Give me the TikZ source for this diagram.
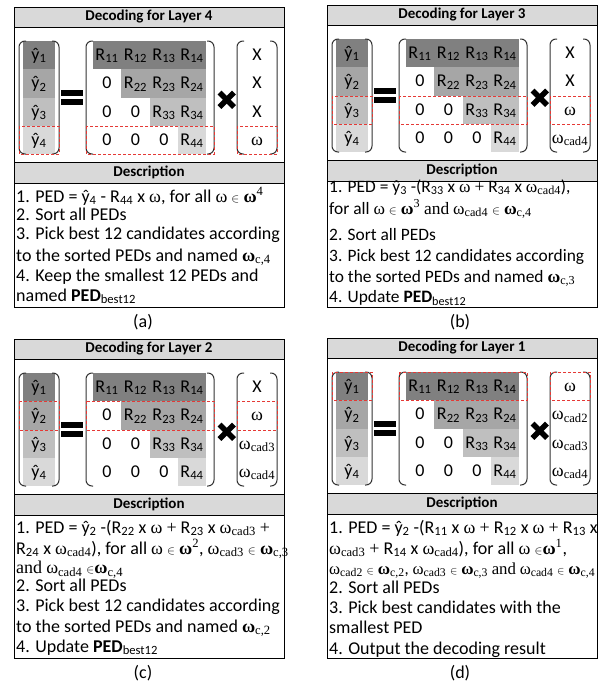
\documentclass[tikz,border=0pt]{standalone}
\usepackage{fontspec}
\setmainfont{Carlito}
\newfontfamily\tms{Liberation Serif}
\definecolor{gA}{HTML}{808080}
\definecolor{gB}{HTML}{A6A6A6}
\definecolor{gC}{HTML}{BFBFBF}
\definecolor{gD}{HTML}{D9D9D9}
\definecolor{hdr}{HTML}{D9D9D9}
\definecolor{dred}{HTML}{E53935}
\newcommand\om{{\tms ω}}
\newcommand\bom{{\tms\bfseries ω}}
\newcommand\omc[1]{{\tms ω\textsubscript{#1}}}
\newcommand\bomc[1]{{\tms{\bfseries ω}\textsubscript{#1}}}
\newcommand\inn{\ensuremath{\scriptstyle\in}}
\newcommand\sups[1]{\textsuperscript{\tms #1}}
\tikzset{
  hdrbox/.style={draw=black, fill=hdr, line width=0.8pt, inner sep=0pt, outer sep=0pt, font=\fontsize{15}{15}\selectfont\bfseries},
  plainbox/.style={draw=black, fill=white, line width=0.8pt, inner sep=0pt, outer sep=0pt},
  ent/.style={inner sep=0pt, anchor=base, font=\fontsize{18}{18}\selectfont},
  dl/.style={inner sep=0pt, anchor=base west, font=\fontsize{18}{20}\selectfont},
  dlb/.style={inner sep=0pt, anchor=base west, font=\fontsize{17.4}{20}\selectfont},
  lab/.style={inner sep=0pt, font=\fontsize{18}{18}\selectfont},
  redbox/.style={draw=dred, dash pattern=on 3pt off 2pt, line width=0.9pt},
  brk/.style={draw=black!80, line width=1pt, rounded corners=6pt},
  eqbar/.style={fill=black},
  crossln/.style={draw=black, line width=5.5pt},
}
% frame: prefix, title, body height, body centre
\newcommand\frm[4]{%
  \node[hdrbox, minimum width=270pt, minimum height=20pt] (#1hd) at (135,10) {#2};
  \node[plainbox, minimum width=270pt, minimum height=135pt] (#1ma) at (135,87.5) {};
  \node[hdrbox, minimum width=270pt, minimum height=21pt] (#1dh) at (135,165.5) {Description};
  \node[plainbox, minimum width=270pt, minimum height=#3pt] (#1db) at (135,#4) {};
}
% matrices: prefix, dashed row top, dashed row bottom, x entries
\newcommand\mtx[7]{%
  \fill[gA] (9,34) rectangle (41,62);
  \fill[gB] (9,62) rectangle (41,91);
  \fill[gC] (9,91) rectangle (41,119);
  \fill[gD] (9,119) rectangle (41,147);
  \fill[gA] (79,34) rectangle (192,62);
  \fill[gB] (107,62) rectangle (192,91);
  \fill[gC] (136,91) rectangle (192,119);
  \fill[gD] (164,119) rectangle (192,147);
  \node[ent] (#1y1) at (25,53) {ŷ\textsubscript{1}};
  \node[ent] (#1y2) at (25,81.5) {ŷ\textsubscript{2}};
  \node[ent] (#1y3) at (25,110) {ŷ\textsubscript{3}};
  \node[ent] (#1y4) at (25,138) {ŷ\textsubscript{4}};
  \node[ent] (#1r11) at (93,53) {R\textsubscript{11}};
  \node[ent] (#1r12) at (121.5,53) {R\textsubscript{12}};
  \node[ent] (#1r13) at (150,53) {R\textsubscript{13}};
  \node[ent] (#1r14) at (178,53) {R\textsubscript{14}};
  \node[ent] (#1r21) at (93,81.5) {0};
  \node[ent] (#1r22) at (121.5,81.5) {R\textsubscript{22}};
  \node[ent] (#1r23) at (150,81.5) {R\textsubscript{23}};
  \node[ent] (#1r24) at (178,81.5) {R\textsubscript{24}};
  \node[ent] (#1r31) at (93,110) {0};
  \node[ent] (#1r32) at (121.5,110) {0};
  \node[ent] (#1r33) at (150,110) {R\textsubscript{33}};
  \node[ent] (#1r34) at (178,110) {R\textsubscript{34}};
  \node[ent] (#1r41) at (93,138) {0};
  \node[ent] (#1r42) at (121.5,138) {0};
  \node[ent] (#1r43) at (150,138) {0};
  \node[ent] (#1r44) at (178,138) {R\textsubscript{44}};
  \node[ent] (#1x1) at (243,53) {#4};
  \node[ent] (#1x2) at (243,81.5) {#5};
  \node[ent] (#1x3) at (243,110) {#6};
  \node[ent] (#1x4) at (243,138) {#7};
  \draw[brk] (12,34) -- (5,34) -- (5,147) -- (12,147);
  \draw[brk] (38,34) -- (45,34) -- (45,147) -- (38,147);
  \draw[brk] (79,34) -- (72,34) -- (72,147) -- (79,147);
  \draw[brk] (193,34) -- (200,34) -- (200,147) -- (193,147);
  \draw[brk] (230,34) -- (223,34) -- (223,147) -- (230,147);
  \draw[brk] (256,34) -- (263,34) -- (263,147) -- (256,147);
  \fill[eqbar] (47,83) rectangle (69,89);
  \fill[eqbar] (47,92) rectangle (69,98);
  \draw[crossln] (205.5,85.5) -- (220,100);
  \draw[crossln] (205.5,100) -- (220,85.5);
  \draw[redbox] (5,#2) rectangle (45,#3);
  \draw[redbox] (72,#2) rectangle (200,#3);
  \draw[redbox] (223,#2) rectangle (263,#3);
}
\begin{document}
\begin{tikzpicture}[x=1pt,y=-1pt]
\useasboundingbox (0,0) rectangle (602,683);
\fill[white] (0,0) rectangle (602,683);
% ---------- (a)
\begin{scope}[shift={(14,7)}]
  \frm{a}{Decoding for Layer 4}{124}{238}
  \mtx{a}{119}{147}{X}{X}{X}{\om}
\end{scope}
\node[dl] (al1) at (16,202) {1. PED = ŷ\textsubscript{4} - R\textsubscript{44} x \om, for all \om\ \inn\ \bom\sups{4}};
\node[dl] (al2) at (16,220) {2. Sort all PEDs};
\node[dl] (al3) at (16,239) {3. Pick best 12 candidates according};
\node[dl] (al4) at (16,261) {to the sorted PEDs and named \bomc{c,4}};
\node[dl] (al5) at (16,281) {4. Keep the smallest 12 PEDs and};
\node[dl] (al6) at (16,301) {named \textbf{PED}\textsubscript{best12}};
\node[lab] (alab) at (143,322) {(a)};
% ---------- (b)
\begin{scope}[shift={(327,5)}]
  \frm{b}{Decoding for Layer 3}{126}{239}
  \mtx{b}{91}{119}{X}{X}{\om}{\omc{cad4}}
\end{scope}
\node[dlb] (bl1) at (329,192) {1. PED = ŷ\textsubscript{3} -(R\textsubscript{33} x \om\ {\tms +} R\textsubscript{34} x \omc{cad4}),};
\node[dlb] (bl2) at (329,214) {for all \om\ \inn\ \bom\sups{3} {\tms and} \omc{cad4} \inn\ \bomc{c,4}};
\node[dlb] (bl3) at (329,240) {2. Sort all PEDs};
\node[dlb] (bl4) at (329,261) {3. Pick best 12 candidates according};
\node[dlb] (bl5) at (329,282) {to the sorted PEDs and named \bomc{c,3}};
\node[dlb] (bl6) at (329,302.5) {4. Update \textbf{PED}\textsubscript{best12}};
\node[lab] (blab) at (460,322) {(b)};
% ---------- (c)
\begin{scope}[shift={(14,339)}]
  \frm{c}{Decoding for Layer 2}{143}{247.5}
  \mtx{c}{62}{91}{X}{\om}{\omc{cad3}}{\omc{cad4}}
\end{scope}
\node[dl] (cl1) at (16,533) {1. PED = ŷ\textsubscript{2} -(R\textsubscript{22} x \om\ {\tms +} R\textsubscript{23} x \omc{cad3} {\tms +}};
\node[dl] (cl2) at (16,554) {R\textsubscript{24} x \omc{cad4}), for all \om\ \inn\ \bom\sups{2}, \omc{cad3} \inn\ \bomc{c,3}};
\node[dl] (cl3) at (16,573.5) {{\tms and} \omc{cad4} \inn\bomc{c,4}};
\node[dl] (cl4) at (16,591) {2. Sort all PEDs};
\node[dl] (cl5) at (16,611) {3. Pick best 12 candidates according};
\node[dl] (cl6) at (16,632) {to the sorted PEDs and named \bomc{c,2}};
\node[dl] (cl7) at (16,652) {4. Update \textbf{PED}\textsubscript{best12}};
\node[lab] (clab) at (143,673) {(c)};
% ---------- (d)
\begin{scope}[shift={(327,338)}]
  \frm{d}{Decoding for Layer 1}{144}{248}
  \mtx{d}{34}{62}{\om}{\omc{cad2}}{\omc{cad3}}{\omc{cad4}}
\end{scope}
\node[dl] (dl1) at (329,533) {1. PED = ŷ\textsubscript{2} -(R\textsubscript{11} x \om\ {\tms +} R\textsubscript{12} x \om\ {\tms +} R\textsubscript{13} x};
\node[dl] (dl2) at (329,554) {\omc{cad3} {\tms +} R\textsubscript{14} x \omc{cad4}), for all \om\ \inn\bom\sups{1},};
\node[dl] (dl3) at (329,574) {\resizebox{266pt}{!}{\omc{cad2} \inn\ \bomc{c,2}, \omc{cad3} \inn\ \bomc{c,3} {\tms and} \omc{cad4} \inn\ \bomc{c,4}}};
\node[dl] (dl4) at (329,593) {2. Sort all PEDs};
\node[dl] (dl5) at (329,613) {3. Pick best candidates with the};
\node[dl] (dl6) at (329,633) {smallest PED};
\node[dl] (dl7) at (329,654) {4. Output the decoding result};
\node[lab] (dlab) at (460,673) {(d)};
\end{tikzpicture}
\end{document}
